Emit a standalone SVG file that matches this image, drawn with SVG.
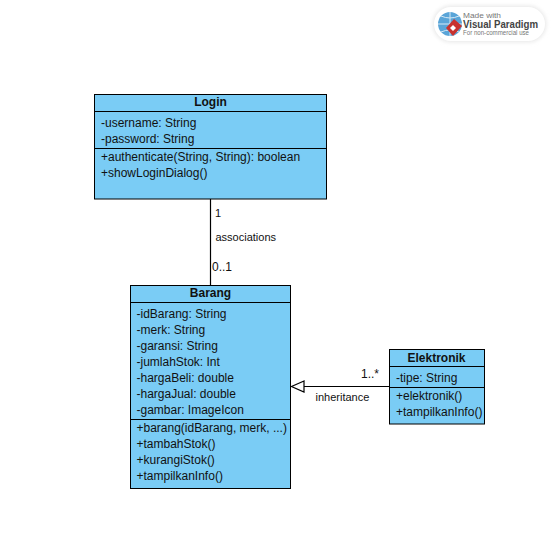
<svg xmlns="http://www.w3.org/2000/svg" width="551" height="555" viewBox="0 0 551 555">
<style>
text{font-family:"Liberation Sans",Arial,sans-serif;font-size:12px;fill:#111}
.box{fill:#7accf5;stroke:#000;stroke-width:1}
.div{stroke:#000;stroke-width:1;fill:none}
.title{font-weight:bold;text-anchor:middle}
.conn{stroke:#000;stroke-width:1.200;fill:none}
.lbl{font-size:11px}
</style>
<defs>
<filter id="soft" x="-10%" y="-30%" width="120%" height="160%"><feGaussianBlur stdDeviation="2"/></filter>
</defs>
<rect width="551" height="555" fill="#fff"/>
<g id="watermark">
<rect x="433" y="6" width="113" height="36" rx="18" fill="#e6e6e6" filter="url(#soft)"/>
<rect x="434" y="7" width="111" height="34" rx="17" fill="#fff"/>
<circle cx="450" cy="24" r="12" fill="#5aa5d8"/>
<path d="M438 24h24M450 12v24M441 16q9 4 18 0M441 32q9-4 18 0" stroke="#d5e9f6" stroke-width="1" fill="none"/>
<path d="M454 19l8 7-9 10-7-8z" fill="#c8322e"/>
<path d="M453 25l3 3-3 3-3-3z" fill="#fff"/>
<text x="463" y="17.500" textLength="38" lengthAdjust="spacingAndGlyphs" style="font-size:7px;fill:#777">Made with</text>
<text x="463" y="27.500" textLength="75" lengthAdjust="spacingAndGlyphs" style="font-size:10.500px;font-weight:bold;fill:#444">Visual Paradigm</text>
<text x="463" y="35" textLength="66" lengthAdjust="spacingAndGlyphs" style="font-size:6.500px;fill:#777">For non-commercial use</text>
</g>
<g id="connectors">
<path class="conn" d="M210.500 199V285"/>
<path class="conn" d="M389 386.500H304"/>
<path class="conn" d="M304 381L291.500 386.500L304 392Z" fill="#fff"/>
<text class="lbl" x="215" y="217">1</text>
<text class="lbl" x="215.500" y="241">associations</text>
<text x="212" y="271">0..1</text>
<text x="361" y="378">1..*</text>
<text class="lbl" x="315.500" y="401">inheritance</text>
</g>
<g id="login">
<rect class="box" x="94.500" y="94.500" width="232" height="104.500"/>
<path class="div" d="M94.500 111.500H326.500M94.500 148.500H326.500"/>
<text class="title" x="210.500" y="106">Login</text>
<text x="101" y="127">-username: String</text>
<text x="101" y="143">-password: String</text>
<text x="101" y="161">+authenticate(String, String): boolean</text>
<text x="101" y="177">+showLoginDialog()</text>
</g>
<g id="barang">
<rect class="box" x="130.500" y="285.500" width="160" height="203"/>
<path class="div" d="M130.500 302.500H290.500M130.500 419.500H290.500"/>
<text class="title" x="210.500" y="297">Barang</text>
<text x="136.500" y="318">-idBarang: String</text>
<text x="136.500" y="334">-merk: String</text>
<text x="136.500" y="350">-garansi: String</text>
<text x="136.500" y="366">-jumlahStok: Int</text>
<text x="136.500" y="382">-hargaBeli: double</text>
<text x="136.500" y="398">-hargaJual: double</text>
<text x="136.500" y="414">-gambar: ImageIcon</text>
<text x="136.500" y="432">+barang(idBarang, merk, ...)</text>
<text x="136.500" y="448">+tambahStok()</text>
<text x="136.500" y="464">+kurangiStok()</text>
<text x="136.500" y="480">+tampilkanInfo()</text>
</g>
<g id="elektronik">
<rect class="box" x="389.500" y="349.500" width="95" height="74.500"/>
<path class="div" d="M389.500 366.500H484.500M389.500 387.500H484.500"/>
<text class="title" x="436.500" y="362">Elektronik</text>
<text x="396" y="382">-tipe: String</text>
<text x="396" y="400">+elektronik()</text>
<text x="396" y="416">+tampilkanInfo()</text>
</g>
</svg>
